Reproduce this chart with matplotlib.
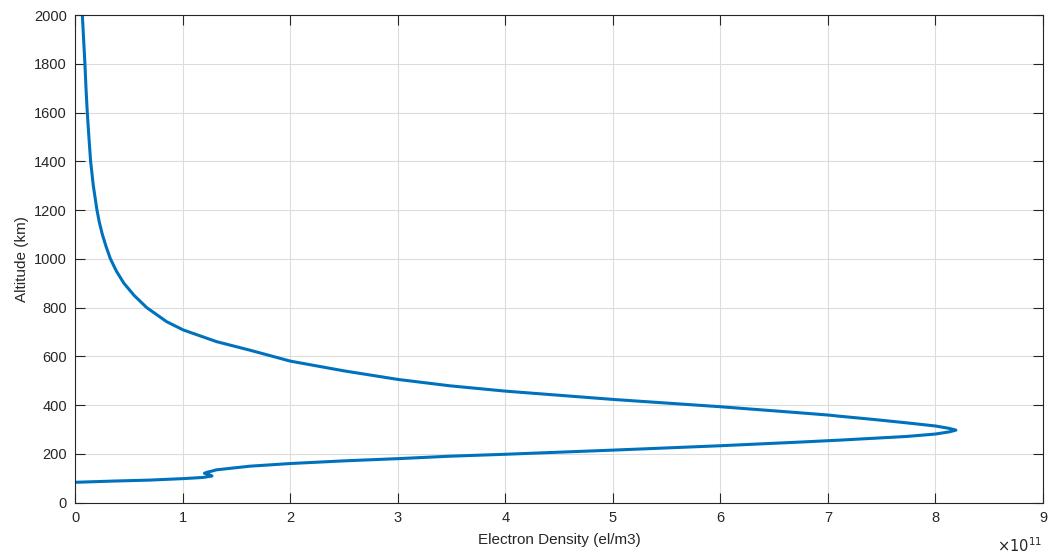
import numpy as np
import matplotlib.pyplot as plt

# profile, walking along the curve (density in units of 1e11 el/m3)
altitude_km = [83, 88, 92, 98, 103, 109, 115, 120, 125, 129, 134, 149, 160, 171,
               180, 190, 198, 215, 233, 248, 256, 263.5, 271, 281, 290, 297, 304,
               314, 327, 341, 354, 359, 368, 393, 423, 457, 479, 505, 540, 580,
               625, 660, 708, 742, 800, 850, 900, 950, 1000, 1050, 1100, 1150,
               1200, 1300, 1400, 1500, 1600, 1700, 1800, 1900, 2000]
density_e11 = [0.0, 0.35, 0.69, 1.0, 1.19, 1.27, 1.24, 1.20, 1.23, 1.27, 1.31,
               1.62, 2.0, 2.5, 3.0, 3.48, 4.0, 5.0, 6.0, 6.74, 7.11, 7.42, 7.73,
               8.0, 8.13, 8.19, 8.13, 8.0, 7.73, 7.42, 7.11, 7.0, 6.74, 6.0, 5.0,
               4.0, 3.48, 3.0, 2.5, 2.0, 1.623, 1.313, 1.003, 0.848, 0.662, 0.545,
               0.45, 0.38, 0.325, 0.285, 0.25, 0.222, 0.20, 0.166, 0.141, 0.125,
               0.110, 0.098, 0.088, 0.076, 0.064]

x_ticks = np.arange(0, 10, 1)
y_ticks = np.arange(0, 2001, 200)

plt.rcParams['font.family'] = ['Liberation Sans', 'DejaVu Sans']

fig = plt.figure(figsize=(10.48, 5.57), dpi=100)
ax = fig.add_axes([0.072, 0.0978, 0.9232, 0.8752])

ax.plot(density_e11, altitude_km, color='#0072BD', linewidth=2.2,
        solid_joinstyle='round')

ax.set_xlim(0, 9)
ax.set_ylim(0, 2000)
ax.set_xticks(x_ticks)
ax.set_yticks(y_ticks)

ax.grid(True, color='#dcdcdc', linewidth=0.8)
ax.set_axisbelow(True)
for s in ax.spines.values():
    s.set_color('#262626')
    s.set_linewidth(0.8)
ax.tick_params(direction='in', length=7, width=0.8, colors='#262626',
               labelsize=10.5, top=True, right=True, pad=6)

ax.set_xlabel('Electron Density (el/m3)', fontsize=11, color='#262626', labelpad=6)
ax.set_ylabel('Altitude (km)', fontsize=11, color='#262626', labelpad=4)

fig.text(1042 / 1048, 1 - 552 / 557, r'$\times10^{11}$', ha='right', va='baseline',
         fontsize=10.5, color='#262626')

fig.savefig('out.png', dpi=100)
